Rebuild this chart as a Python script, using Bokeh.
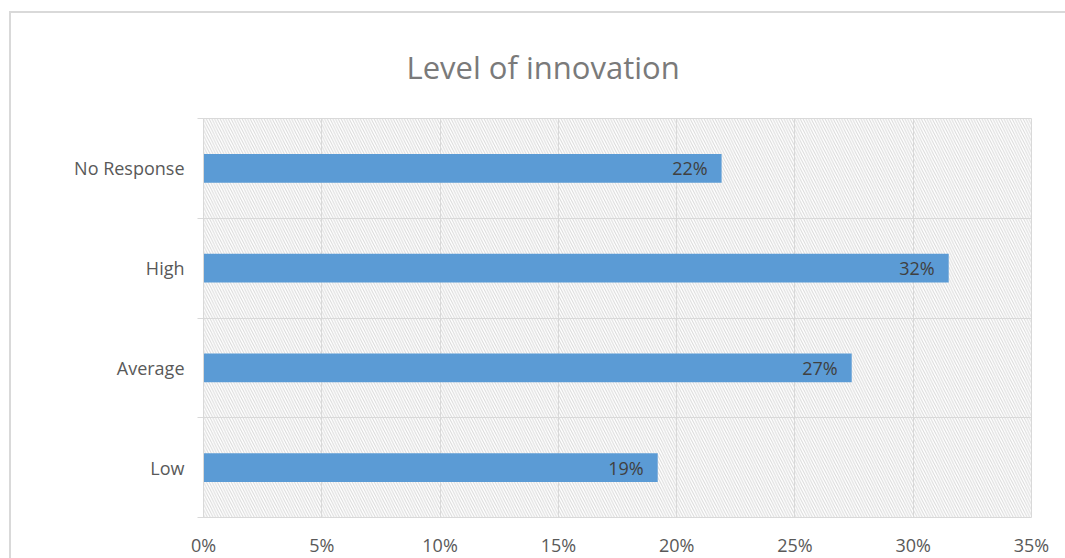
from bokeh.plotting import figure
from bokeh.models import (Range1d, FixedTicker, NumeralTickFormatter, ColumnDataSource,
                          LabelSet, BoxAnnotation)
from bokeh.core.properties import value
from bokeh.embed import file_html
from bokeh.resources import INLINE

categories = ["Low", "Average", "High", "No Response"]
values = [0.192, 0.274, 0.315, 0.219]
labels = ["19%", "27%", "32%", "22%"]
x_ticks = [0, 0.05, 0.10, 0.15, 0.20, 0.25, 0.30, 0.35]
title_text = "Level of innovation"

FONT = "Open Sans"
GRID = "#d9d9d9"

pos = [i + 0.5 for i in range(len(categories))]
src = ColumnDataSource(dict(y=pos, v=values, lab=labels, cat=categories))

p = figure(width=1054, height=545, output_backend="svg", toolbar_location=None,
           x_range=Range1d(0, 0.35), y_range=Range1d(0, len(categories)),
           min_border_left=192, min_border_top=105, min_border_right=34, min_border_bottom=41)
p.frame_width = 828
p.frame_height = 399
p.styles = {"margin-left": "9px", "margin-top": "11px",
            "border-top": "2px solid #d9d9d9", "border-left": "2px solid #d9d9d9"}

p.title.text = title_text
p.title.text_font = FONT
p.title.text_font_size = "31px"
p.title.text_font_style = "normal"
p.title.text_color = "#7a7a7a"
p.title.align = "left"
p.title.vertical_align = "top"
p.title.offset = 203
p.title.standoff = 58

p.outline_line_color = GRID
p.background_fill_color = "white"
p.border_fill_color = "white"

bg = BoxAnnotation(fill_color=None, line_color=None, hatch_pattern="left_diagonal_line",
                   hatch_color="#d8d8d8", hatch_scale=5.5, hatch_weight=1, level="image")
p.add_layout(bg)

p.hbar(y="y", right="v", left=0, height=0.286, source=src, color="#5b9bd5", line_color=None)

lbl = LabelSet(x="v", y="y", text="lab", source=src, x_offset=-14, text_align="right",
               text_baseline="middle", text_font=value(FONT), text_font_size="18px",
               text_color="#404040")
p.add_layout(lbl)

# x axis
p.xaxis.ticker = FixedTicker(ticks=x_ticks)
p.xaxis.formatter = NumeralTickFormatter(format="0%")
p.xaxis.axis_line_color = None
p.xaxis.major_tick_line_color = None
p.xaxis.minor_tick_line_color = None
p.xaxis.major_tick_out = 0
p.xaxis.major_label_standoff = 15
p.xaxis.major_label_text_font = FONT
p.xaxis.major_label_text_font_size = "18px"
p.xaxis.major_label_text_color = "#595959"

# y axis
p.yaxis.ticker = FixedTicker(ticks=pos, minor_ticks=list(range(len(categories) + 1)))
p.yaxis.major_label_overrides = {pp: c for pp, c in zip(pos, categories)}
p.yaxis.axis_line_color = GRID
p.yaxis.major_tick_line_color = None
p.yaxis.major_tick_out = 0
p.yaxis.minor_tick_line_color = GRID
p.yaxis.minor_tick_out = 6
p.yaxis.minor_tick_in = 0
p.yaxis.major_label_standoff = 13
p.yaxis.major_label_text_font = FONT
p.yaxis.major_label_text_font_size = "18px"
p.yaxis.major_label_text_color = "#595959"

p.xgrid.ticker = FixedTicker(ticks=x_ticks)
p.xgrid.grid_line_color = GRID
p.ygrid.ticker = FixedTicker(ticks=list(range(len(categories) + 1)))
p.ygrid.grid_line_color = GRID

open("out.html", "w").write(file_html(p, INLINE))
